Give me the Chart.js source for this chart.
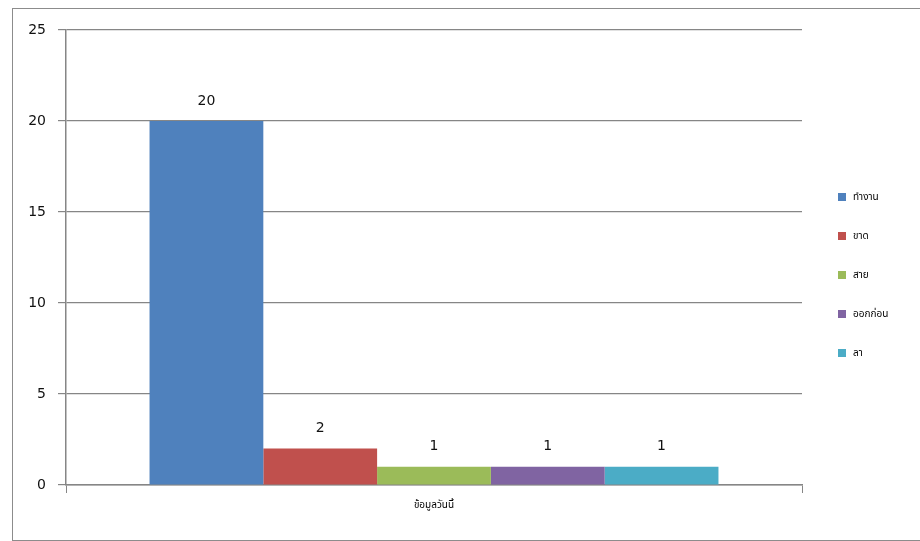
<!DOCTYPE html>
<html><head><meta charset="utf-8">
<script src="https://cdn.jsdelivr.net/npm/chart.js@4"></script>
<style>
html,body{margin:0;padding:0;background:#fff;width:920px;height:541px;overflow:hidden;}
#wrap{position:absolute;left:0;top:0;width:920px;height:541px;overflow:hidden;}
#frame{position:absolute;left:12px;top:8px;width:940px;height:533px;border:1.5px solid #8c8c8c;box-sizing:border-box;}
canvas{position:absolute;left:0;top:0;}
</style></head>
<body>
<div id="wrap"><div id="frame"></div><canvas id="c" width="920" height="541"></canvas></div>
<script>
const categories = ['ข้อมูลวันนี้'];
const seriesNames = ['ทำงาน','ขาด','สาย','ออกก่อน','ลา'];
const seriesValues = [20, 2, 1, 1, 1];
const seriesColors = ['#4F81BD','#C0504D','#9BBB59','#8064A2','#4BACC6'];
const yTicks = [0,5,10,15,20,25];

const FONT = '"DejaVu Sans", "Noto Sans Thai", Tahoma, sans-serif';

const valueLabels = {
  id:'valueLabels',
  afterDatasetsDraw(chart){
    const ctx = chart.ctx;
    ctx.save();
    ctx.font = '14px ' + FONT;
    ctx.fillStyle = '#111';
    ctx.textAlign = 'center';
    ctx.textBaseline = 'middle';
    chart.data.datasets.forEach((ds,i)=>{
      chart.getDatasetMeta(i).data.forEach((bar,j)=>{
        ctx.fillText(String(ds.data[j]), bar.x, bar.y - 20);
      });
    });
    ctx.restore();
  }
};
const sideLegend = {
  id:'sideLegend',
  afterDraw(chart){
    const ctx = chart.ctx;
    ctx.save();
    ctx.font = '10px ' + FONT;
    ctx.textBaseline = 'middle';
    ctx.textAlign = 'left';
    chart.data.datasets.forEach((ds,i)=>{
      const y = 197 + i*39;
      ctx.fillStyle = ds.backgroundColor;
      ctx.fillRect(838, y-4, 8, 8);
      ctx.fillStyle = '#000';
      ctx.fillText(ds.label, 853, y);
    });
    ctx.restore();
  }
};

new Chart(document.getElementById('c'), {
  type:'bar',
  data:{
    labels: categories,
    datasets: seriesNames.map((n,i)=>({
      label:n, data:[seriesValues[i]], backgroundColor:seriesColors[i],
      borderWidth:0, barPercentage:1.0, categoryPercentage:0.773
    }))
  },
  options:{
    responsive:false, animation:false,
    layout:{padding:{left:12,right:118,top:30,bottom:0}},
    plugins:{legend:{display:false}, tooltip:{enabled:false}},
    scales:{
      x:{
        grid:{drawOnChartArea:false, drawTicks:true, tickLength:8, color:'#868686', offset:true},
        border:{color:'#868686', width:1.5},
        ticks:{font:{family:FONT,size:10}, color:'#000', padding:6},
        afterFit(s){ s.height = 56; }
      },
      y:{
        min:0, max:25,
        afterBuildTicks(s){ s.ticks = yTicks.map(v=>({value:v})); },
        grid:{color:'#868686', lineWidth:1.2, tickLength:8},
        border:{color:'#868686', width:1.5},
        ticks:{font:{family:FONT,size:14}, color:'#111', padding:12},
        afterFit(s){ s.width = 54; }
      }
    }
  },
  plugins:[valueLabels, sideLegend]
});
</script>
</body></html>
